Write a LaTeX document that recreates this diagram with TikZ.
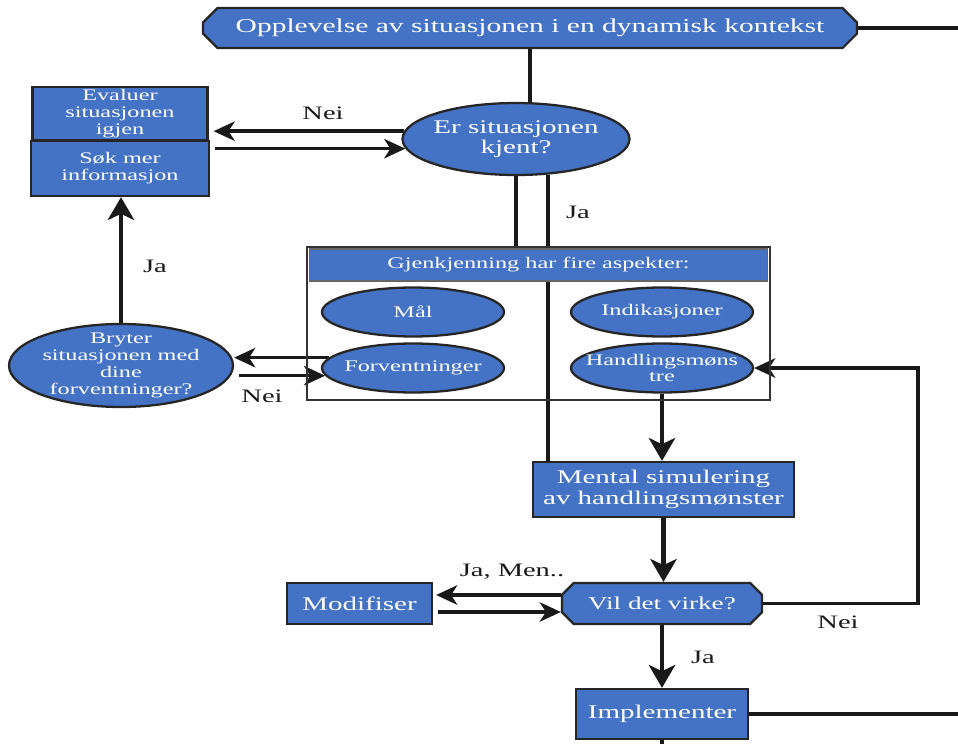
\documentclass[tikz,border=0pt]{standalone}
\usepackage{fontspec}
\setmainfont{Liberation Serif}
\newfontfamily\widefont[FakeStretch=1.5]{Liberation Serif}
\usetikzlibrary{shapes.geometric,shapes.misc,arrows.meta,backgrounds}
\definecolor{boxblue}{RGB}{68,114,196}

\begin{document}
\begin{tikzpicture}[x=0.02cm, y=-0.02cm, every node/.style={font=\widefont},
  bluebox/.style={draw=black!85, line width=1.3pt, fill=boxblue, text=white, inner sep=0pt, align=center},
  bigtxt/.style={font=\widefont\fontsize{11}{11.6}\selectfont},
  smalltxt/.style={font=\widefont\fontsize{9.2}{9.6}\selectfont},
  ell/.style={bluebox, ellipse, inner xsep=-8pt, inner ysep=-2pt},
  cham/.style={bluebox, chamfered rectangle, chamfered rectangle xsep=0.26cm},
  lab/.style={font=\widefont\fontsize{10.8}{11}\selectfont, text=black!90},
  conn/.style={line width=2pt, draw=black!90},
  arr/.style={conn, -{Stealth[length=12pt,width=11pt,inset=3.5pt]}},
  bigarr/.style={conn, line width=2.8pt, -{Stealth[length=13pt,width=15pt,inset=3.5pt]}}]
  \useasboundingbox (0,0) rectangle (958,744);
  % boxes
  \node[cham, bigtxt, font=\widefont\fontsize{11.2}{12}\selectfont, minimum width=13.08cm, minimum height=0.8cm] (top) at (530,28) {Opplevelse av situasjonen i en dynamisk kontekst};
  \node[ell, bigtxt, minimum width=4.54cm, minimum height=1.44cm] (er) at (516,139) {Er situasjonen\\kjent?};
  \node[bluebox, smalltxt, minimum width=3.5cm, minimum height=1.06cm] (evaluer) at (120,113.5) {Evaluer\\situasjonen\\igjen};
  \node[bluebox, smalltxt, minimum width=3.56cm, minimum height=1.1cm] (soek) at (120,168.5) {Søk mer\\informasjon};
  \node[draw=black!80, line width=1.2pt, minimum width=9.26cm, minimum height=3.06cm, inner sep=0pt] (gj) at (538.5,323.5) {};
  \node[bluebox, smalltxt, draw=black!60, line width=0.6pt, minimum width=9.18cm, minimum height=0.64cm] (gjhead) at (538.5,265) {Gjenkjenning har fire aspekter:};
  \node[ell, smalltxt, minimum width=3.64cm, minimum height=0.98cm] (maal) at (413,312) {Mål};
  \node[ell, smalltxt, minimum width=3.64cm, minimum height=0.98cm] (ind) at (662,312) {Indikasjoner};
  \node[ell, smalltxt, minimum width=3.64cm, minimum height=0.98cm] (forv) at (413,368) {Forventninger};
  \node[ell, smalltxt, minimum width=3.64cm, minimum height=0.98cm] (handl) at (662,368) {Handlingsmøns\\tre};
  \node[ell, smalltxt, inner xsep=-4pt, inner ysep=-3pt, minimum width=4.48cm, minimum height=1.66cm] (bryter) at (121,365.5) {Bryter\\situasjonen med\\dine\\forventninger?};
  \node[bluebox, bigtxt, minimum width=5.22cm, minimum height=1.1cm] (mental) at (663.5,489.5) {Mental simulering\\av handlingsmønster};
  \node[bluebox, bigtxt, minimum width=2.9cm, minimum height=0.82cm] (modif) at (359.5,603.5) {Modifiser};
  \node[cham, bigtxt, font=\widefont\fontsize{10.3}{11}\selectfont, minimum width=4cm, minimum height=0.82cm] (vil) at (662,603.5) {Vil det virke?};
  \node[bluebox, bigtxt, minimum width=3.44cm, minimum height=1cm] (impl) at (662,714) {Implementer};
  % free ends
  \coordinate (topend) at (958,28);
  \coordinate (implend) at (958,714);
  \coordinate (implbot) at (662,744);
  \coordinate (loopx) at (918,480);
  \coordinate (va) at ([yshift=0.17cm]vil.west);
  \coordinate (vb) at ([yshift=-0.17cm]vil.west);
  % connectors
  \begin{scope}[on background layer]
    \draw[conn] (top.east) -- (topend);
    \draw[conn] (top.south) -- (top.south |- er.north);
    \draw[arr, shorten >=0.1cm] (er.176) -- (er.176 -| evaluer.east);
    \draw[arr, shorten <=0.1cm] (er.185 -| soek.east) -- (er.185);
    \draw[conn] (er.south) -- (er.south |- gj.north);
    \draw[conn] (er.-48) -- (er.-48 |- mental.north);
    \draw[bigarr] (bryter.north) -- (bryter.north |- soek.south);
    \draw[arr] (forv.173) -- (forv.173 -| bryter.east);
    \draw[arr, shorten <=0.1cm] (forv.185 -| bryter.east) -- (forv.185);
    \draw[bigarr] (handl.south) -- (handl.south |- mental.north);
    \draw[bigarr] (mental.south) -- (mental.south |- vil.north);
    \draw[arr, shorten >=0.06cm] (va) -- (va -| modif.east);
    \draw[arr, shorten <=0.1cm] (vb -| modif.east) -- (vb);
    \draw[arr] (vil.east) -| (loopx) |- (handl.east);
    \draw[bigarr] (vil.south) -- (vil.south |- impl.north);
    \draw[conn] (impl.east) -- (implend);
    \draw[conn] (impl.south) -- (implbot);
  \end{scope}
  % labels
  \node[lab] (nei1) at (323,113) {Nei};
  \node[lab] (ja1) at (578,212) {Ja};
  \node[lab] (ja2) at (155,266) {Ja};
  \node[lab] (nei2) at (262,396) {Nei};
  \node[lab] (jamen) at (512,572) {Ja, Men..};
  \node[lab] (nei3) at (838,622) {Nei};
  \node[lab] (ja3) at (703,657) {Ja};
\end{tikzpicture}
\end{document}
